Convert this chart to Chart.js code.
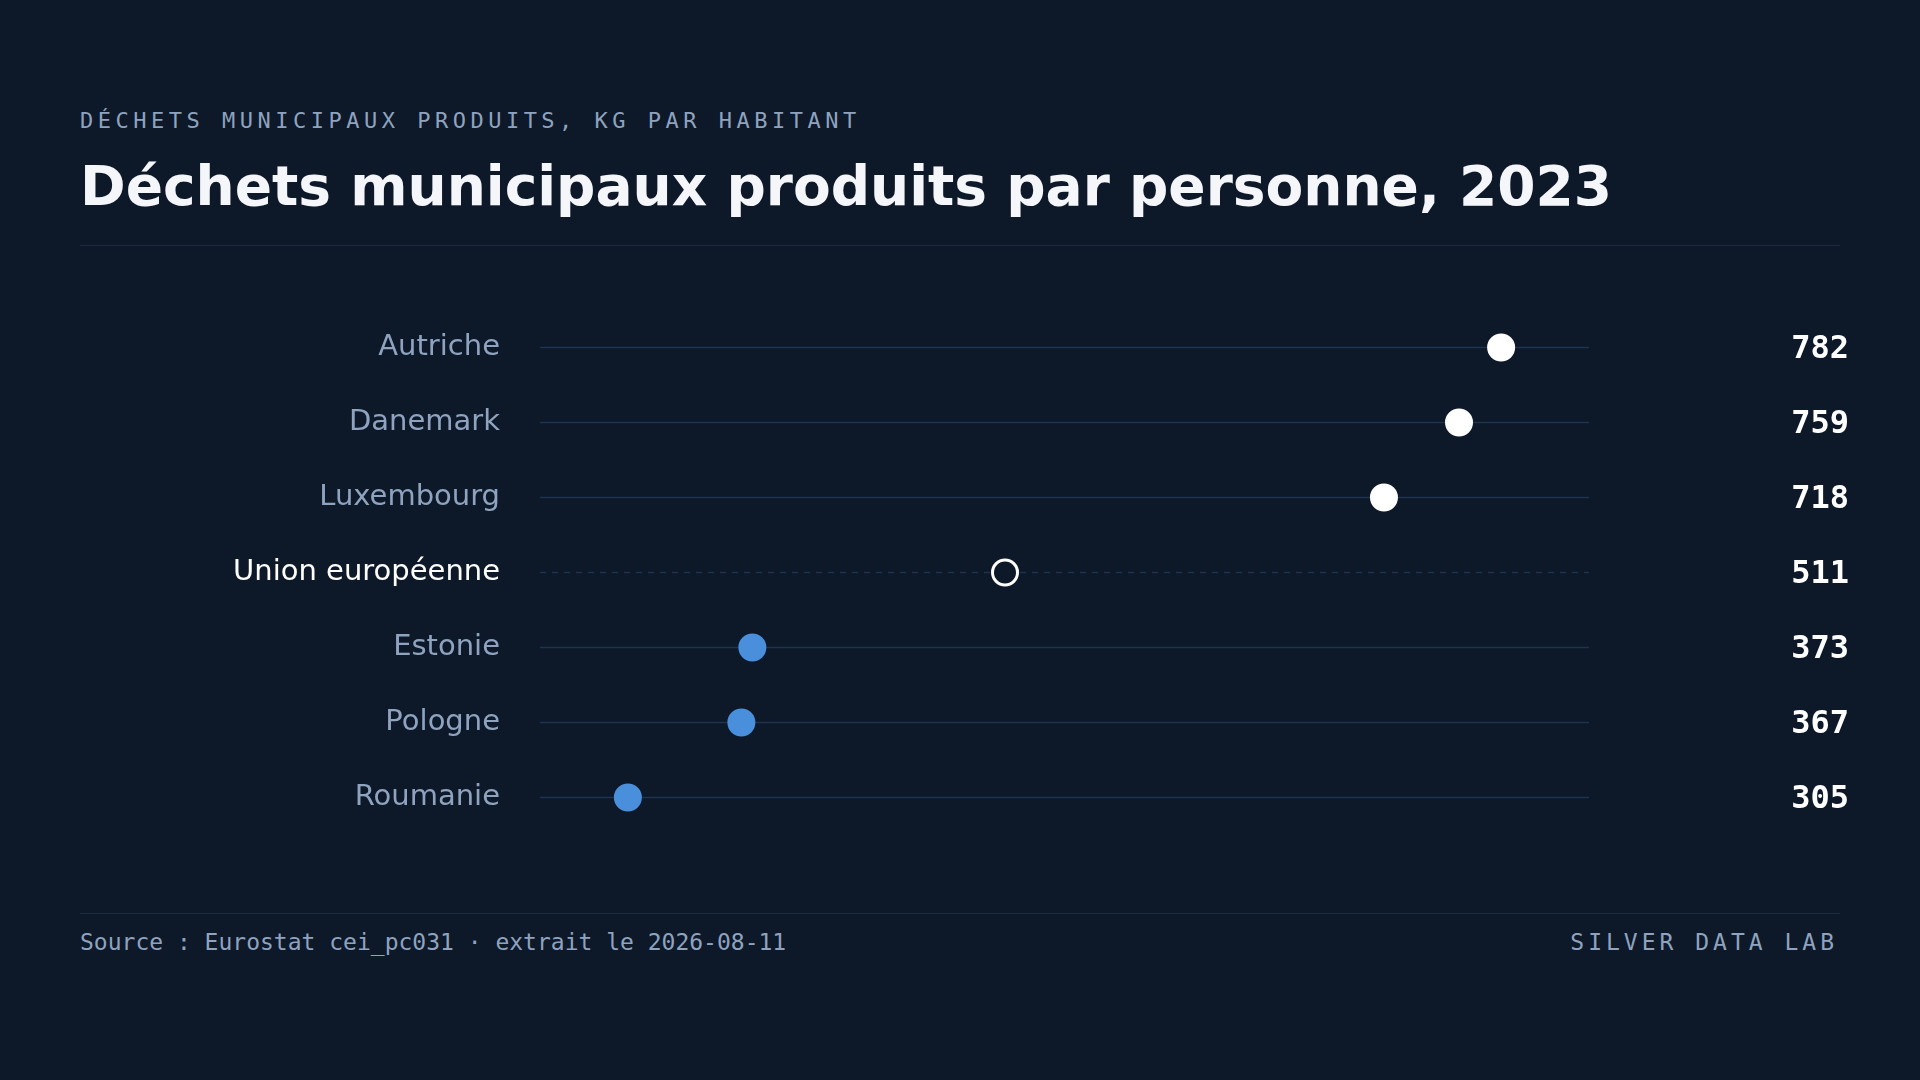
<!DOCTYPE html>
<html><head><meta charset="utf-8">
<script src="https://cdn.jsdelivr.net/npm/chart.js@4"></script>
<style>
html,body{margin:0;padding:0;background:#0d1829;width:1920px;height:1080px;overflow:hidden;font-family:"DejaVu Sans",sans-serif}
#sub{position:absolute;left:80px;top:108px;font-family:"DejaVu Sans Mono",monospace;font-size:22px;letter-spacing:4.5px;color:#8fa3bf}
#title{position:absolute;left:80px;top:154px;font-size:55px;font-weight:bold;color:#f4f6fa}
.rule{position:absolute;left:80px;width:1760px;height:1px;background:#1c2a40}
#src{position:absolute;left:80px;top:929px;font-family:"DejaVu Sans Mono",monospace;font-size:23px;color:#8fa3bf}
#brand{position:absolute;right:82px;top:929px;font-family:"DejaVu Sans Mono",monospace;font-size:23px;letter-spacing:4px;color:#8fa3bf}
canvas{position:absolute;left:0;top:0}
</style></head><body>
<div id="sub">DÉCHETS MUNICIPAUX PRODUITS, KG PAR HABITANT</div>
<div id="title">Déchets municipaux produits par personne, 2023</div>
<div class="rule" style="top:245px"></div>
<div class="rule" style="top:913px"></div>
<div id="src">Source : Eurostat cei_pc031 · extrait le 2026-08-11</div>
<div id="brand">SILVER DATA LAB</div>
<canvas id="c" width="1920" height="1080"></canvas>
<script>
const countries = ['Autriche','Danemark','Luxembourg','Union européenne','Estonie','Pologne','Roumanie'];
const values = [782,759,718,511,373,367,305];
const groups = ['high','high','high','eu','low','low','low'];

const fill = groups.map(g => g==='high' ? '#ffffff' : g==='eu' ? '#0d1829' : '#4a8fdb');
const border = groups.map(g => g==='low' ? '#4a8fdb' : '#ffffff');

const rowsPlugin = {
  id:'rows',
  beforeDatasetsDraw(chart){
    const {ctx, scales:{x,y}} = chart;
    ctx.save();
    countries.forEach((c,i)=>{
      const py = y.getPixelForValue(i);
      ctx.beginPath();
      ctx.strokeStyle = '#1f3350';
      ctx.lineWidth = 1.5;
      ctx.setLineDash(groups[i]==='eu' ? [6,6] : []);
      ctx.moveTo(x.left, py); ctx.lineTo(x.right, py); ctx.stroke();
      ctx.setLineDash([]);
      ctx.textBaseline = 'middle';
      ctx.textAlign = 'right';
      ctx.font = '29px "DejaVu Sans"';
      ctx.fillStyle = groups[i]==='eu' ? '#ffffff' : '#8fa3bf';
      ctx.fillText(c, x.left - 40, py);
      ctx.font = 'bold 32px "DejaVu Sans Mono"';
      ctx.fillStyle = '#ffffff';
      ctx.fillText(String(values[i]), 1849, py + 2);
    });
    ctx.restore();
  }
};

new Chart(document.getElementById('c'), {
  type:'scatter',
  data:{datasets:[{
    data: values.map((v,i)=>({x:v,y:i})),
    pointRadius:12.5, pointHoverRadius:12.5,
    pointBackgroundColor: fill, pointBorderColor: border, pointBorderWidth:3
  }]},
  options:{
    responsive:false, animation:false,
    layout:{padding:{left:540,right:331,top:310,bottom:245}},
    plugins:{legend:{display:false},tooltip:{enabled:false}},
    scales:{
      x:{type:'linear',min:257,max:830,display:false},
      y:{type:'linear',min:-0.5,max:6.5,reverse:true,display:false}
    }
  },
  plugins:[rowsPlugin]
});
</script>
</body></html>
